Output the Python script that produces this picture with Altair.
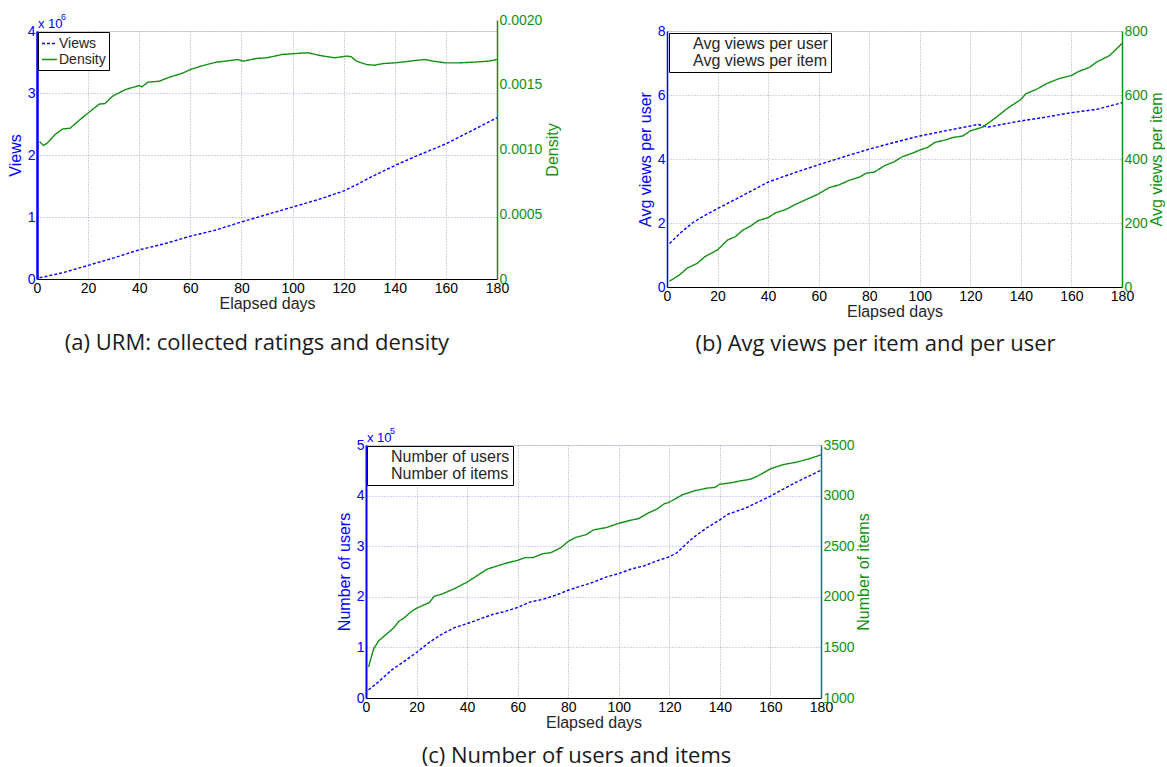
import altair as alt
import pandas as pd

BLUE = "#0000ff"
GREEN = "#139013"
TEAL = "#1c6a80"
FONT = "Liberation Sans"
CAPFONT = "Open Sans"

# ---------------- Panel (a): URM collected ratings and density ----------------
a_views_days = [1, 10, 20, 30, 40, 50, 60, 70, 80, 90, 100, 110, 120, 125, 130, 140, 150, 160, 170, 180]
a_views = [0.02, 0.10, 0.22, 0.34, 0.47, 0.57, 0.69, 0.79, 0.92, 1.04, 1.16, 1.28, 1.42, 1.52, 1.63,
           1.83, 2.01, 2.18, 2.39, 2.60]
a_dens_days = [1, 2.5, 4, 7, 10, 13, 16, 20, 24.4, 26.6, 29.5, 34.6, 40, 41, 43.4, 47.8, 52, 56.6, 60, 64,
               70, 75.6, 78.5, 80.7, 85.8, 90, 96, 102, 106, 110.7, 116.5, 121, 123, 125, 129, 132,
               135.5, 140, 145.8, 151.6, 155, 160, 165, 170.6, 176.5, 180]
a_density = [0.001062, 0.001031, 0.00105, 0.001114, 0.001158, 0.001165, 0.001217, 0.001282, 0.001351,
             0.001354, 0.001411, 0.001463, 0.001494, 0.001483, 0.00152, 0.001527, 0.00156, 0.001587,
             0.001617, 0.001643, 0.001674, 0.001687, 0.001695, 0.001682, 0.001703, 0.001708, 0.001734,
             0.001742, 0.001747, 0.001726, 0.001708, 0.001721, 0.001716, 0.001682, 0.001656, 0.001651,
             0.001664, 0.001669, 0.001682, 0.001695, 0.001682, 0.001669, 0.001669, 0.001674, 0.001682,
             0.001695]

# ---------------- Panel (b): avg views per item / per user ----------------
b_user_days = [1, 5, 10, 15, 20, 30, 40, 50, 60, 70, 80, 90, 100, 110, 120, 123, 127, 140, 150, 160, 170, 180]
b_user = [1.36, 1.67, 2.0, 2.24, 2.45, 2.86, 3.28, 3.56, 3.82, 4.07, 4.31, 4.52, 4.72, 4.88, 5.03, 5.08,
          5.0, 5.19, 5.31, 5.45, 5.55, 5.76]
b_item_days = [1, 5, 8, 12, 15, 20, 24, 27, 30, 33, 36, 40, 43, 47, 50, 55, 60, 64, 68, 72, 76, 79, 82, 86,
               90, 93, 97, 100, 103, 106, 110, 113, 117, 120, 125, 130, 135, 140, 142, 146, 150, 155, 160,
               163, 167, 170, 175, 177, 180]
b_item = [18, 38, 59, 74, 95, 116, 147, 157, 178, 190, 207, 217, 232, 242, 255, 273, 291, 310, 319, 333,
          343, 356, 359, 379, 392, 407, 418, 428, 436, 452, 459, 467, 472, 488, 500, 529, 560, 586, 604,
          617, 635, 651, 661, 674, 686, 703, 723, 738, 761]

# ---------------- Panel (c): number of users and items ----------------
c_user_days = [1, 5, 10, 15, 20, 25, 30, 35, 40, 45, 50, 55, 60, 65, 70, 75, 80, 85, 90, 95, 100, 105, 110,
               115, 120, 123, 127, 130, 135, 140, 143, 150, 160, 170, 180]
c_users = [0.16, 0.32, 0.55, 0.72, 0.90, 1.10, 1.26, 1.39, 1.47, 1.56, 1.65, 1.71, 1.79, 1.90, 1.95, 2.03,
           2.13, 2.21, 2.29, 2.39, 2.46, 2.55, 2.61, 2.71, 2.79, 2.87, 3.06, 3.19, 3.37, 3.52, 3.63, 3.75,
           3.99, 4.26, 4.50]
c_item_days = [1, 3, 5, 8, 11, 13, 15, 18, 20, 25, 27, 30, 35, 40, 42, 45, 48, 52, 55, 60, 63, 66, 70, 73,
               77, 80, 83, 87, 90, 95, 100, 105, 108, 112, 115, 118, 120, 125, 130, 135, 138, 140, 145,
               148, 152, 155, 160, 165, 170, 175, 180]
c_items = [1306, 1484, 1565, 1629, 1694, 1758, 1790, 1855, 1887, 1942, 2006, 2026, 2081, 2145, 2177, 2226,
           2274, 2306, 2329, 2361, 2387, 2387, 2426, 2435, 2484, 2548, 2587, 2613, 2661, 2684, 2726, 2758,
           2774, 2832, 2865, 2919, 2935, 3006, 3048, 3074, 3081, 3113, 3129, 3145, 3161, 3194, 3265, 3306,
           3329, 3361, 3403]

X_TICKS = list(range(0, 181, 20))


def panel(ldays, lvals, rdays, rvals, lname, rname, ltitle, rtitle,
          lticks, rticks, rlabel_expr, width, height, caption, cap_dx, cap_offset,
          legend_font, legend_symbol, legend_sym_size, legend_label_offset, legend_row_pad,
          legend_offset, right_domain_color, right_title_pad, right_range=None, exponent=None,
          left_domain_width=2):
    ldf = pd.DataFrame({"day": ldays, "v": lvals, "s": lname})
    rdf = pd.DataFrame({"day": rdays, "v": rvals, "s": rname})

    xenc = alt.X("day:Q",
                 scale=alt.Scale(domain=[0, 180], nice=False, zero=False),
                 axis=alt.Axis(values=X_TICKS, title="Elapsed days", grid=True,
                               gridColor="#a8a8a8", gridDash=[1, 2], labelColor="black",
                               labelFont=FONT, labelFontSize=14, titleFont=FONT, titleFontSize=16,
                               titleFontWeight="normal", titleColor="#262626", domainColor="black",
                               ticks=False, labelPadding=2, titlePadding=0, labelFlush=False,
                               format="d"))

    leg = dict(orient="top-left", offset=legend_offset, padding=3, title=None, strokeColor="black",
               fillColor="white", labelFont=FONT, labelFontSize=legend_font, labelColor="#262626",
               symbolType="stroke", symbolSize=legend_sym_size, symbolStrokeWidth=1.5,
               labelOffset=legend_label_offset, rowPadding=legend_row_pad)
    if not legend_symbol:
        leg["symbolOpacity"] = 0
    color = alt.Color("s:N", scale=alt.Scale(domain=[lname, rname], range=[BLUE, GREEN]),
                      legend=alt.Legend(**leg))
    dash = alt.StrokeDash("s:N", scale=alt.Scale(domain=[lname, rname], range=[[3, 2], [1, 0]]),
                          legend=alt.Legend(**leg))

    left = alt.Chart(ldf).mark_line(strokeWidth=1.4).encode(
        x=xenc,
        y=alt.Y("v:Q", scale=alt.Scale(domain=[lticks[0], lticks[-1]], nice=False, zero=False),
                axis=alt.Axis(orient="left", values=lticks, title=ltitle, grid=True,
                              gridColor="#a0a0ff", gridDash=[1, 2], labelColor=BLUE,
                              labelFont=FONT, labelFontSize=14, titleFont=FONT, titleFontSize=16,
                              titleFontWeight="normal", titleColor=BLUE, domainColor=BLUE,
                              domainWidth=left_domain_width, ticks=False, labelPadding=2,
                              titlePadding=4, format="d")),
        color=color, strokeDash=dash)

    rscale = dict(domain=[rticks[0], rticks[-1]], nice=False, zero=False)
    if right_range is not None:
        rscale["range"] = right_range
    right = alt.Chart(rdf).mark_line(strokeWidth=1.4).encode(
        x=xenc,
        y=alt.Y("v:Q", scale=alt.Scale(**rscale),
                axis=alt.Axis(orient="right", values=rticks, title=rtitle, grid=False,
                              labelColor=GREEN, labelFont=FONT, labelFontSize=14, titleFont=FONT,
                              titleFontSize=16, titleFontWeight="normal", titleColor=GREEN,
                              titleAngle=270, titleBaseline="top", domainColor=right_domain_color,
                              domainWidth=1.5, ticks=False, labelPadding=2,
                              titlePadding=right_title_pad, labelExpr=rlabel_expr)),
        color=color, strokeDash=dash)

    layers = [left, right]
    if exponent is not None:
        edf = pd.DataFrame({"t": ["x 10"], "e": [exponent]})
        layers.append(alt.Chart(edf).mark_text(align="left", baseline="alphabetic", fontSize=13,
                                               font=FONT, color=BLUE)
                      .encode(text="t:N", x=alt.value(1), y=alt.value(-3)))
        layers.append(alt.Chart(edf).mark_text(align="left", baseline="alphabetic", fontSize=9,
                                               font=FONT, color=BLUE)
                      .encode(text="e:N", x=alt.value(24), y=alt.value(-11)))

    return alt.layer(*layers).resolve_scale(y="independent").properties(
        width=width, height=height,
        title=alt.TitleParams(caption, orient="bottom", anchor="middle", frame="group",
                              font=CAPFONT, fontSize=22, fontWeight="normal", color="#1a1a1a",
                              offset=cap_offset, dx=cap_dx))


pa = panel(a_views_days, a_views, a_dens_days, a_density, "Views", "Density", "Views", "Density",
           [0, 1, 2, 3, 4], [0, 0.0005, 0.0010, 0.0015, 0.0020],
           "datum.value == 0 ? '0' : format(datum.value, '.4f')", 460, 248,
           "(a) URM: collected ratings and density", -10, 22,
           14, True, 225, 1, 0, 1, GREEN, 3, right_range=[248, -11], exponent="6",
           left_domain_width=2.5)

pb = panel(b_user_days, b_user, b_item_days, b_item, "Avg views per user", "Avg views per item",
           "Avg views per user", "Avg views per item",
           [0, 2, 4, 6, 8], [0, 200, 400, 600, 800], "format(datum.value, 'd')", 455, 256,
           "(b) Avg views per item and per user", -19, 15,
           16, False, 100, 5, 1, 2, GREEN, 1, left_domain_width=1.5)

pc = panel(c_user_days, c_users, c_item_days, c_items, "Number of users", "Number of items",
           "Number of users", "Number of items",
           [0, 1, 2, 3, 4, 5], [1000, 1500, 2000, 2500, 3000, 3500], "format(datum.value, 'd')",
           455, 253, "(c) Number of users and items", -17, 16,
           16, False, 100, 5, 1, 1, TEAL, 1, exponent="5", left_domain_width=2)

spacer = alt.Chart(pd.DataFrame({"z": [0]})).mark_point(opacity=0).properties(
    width=329, height=1, view=alt.ViewBackground(stroke="transparent"))

top = alt.hconcat(pa, pb, spacing=170, bounds="flush").resolve_scale(
    color="independent", strokeDash="independent")
bottom = alt.hconcat(spacer, pc, spacing=0, bounds="flush").resolve_scale(
    color="independent", strokeDash="independent")

chart = alt.vconcat(top, bottom, spacing=414, bounds="flush").resolve_scale(
    color="independent", strokeDash="independent").properties(
    padding={"left": 6, "top": 12, "right": 0, "bottom": 5}
).configure_view(stroke="black", strokeWidth=1).configure(background="white")

chart.save("out.html", embed_options={"renderer": "svg", "actions": False})
